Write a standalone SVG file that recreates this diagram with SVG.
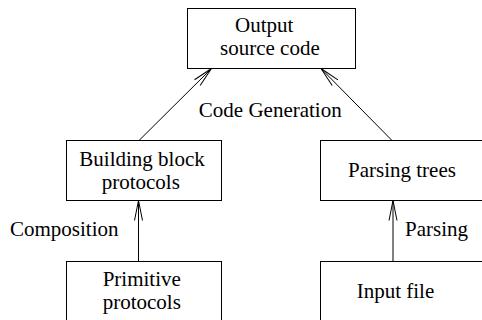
<svg xmlns="http://www.w3.org/2000/svg" width="482" height="320" viewBox="0 0 482 320">
<style>
.box{fill:#fff;stroke:#000;stroke-width:1}
.t{font-family:'Liberation Serif',serif !important;font-size:21px;fill:#000}
.c{stroke:#000;stroke-width:1;fill:none}
</style>
<defs>
<marker id="ah" markerUnits="userSpaceOnUse" markerWidth="24" markerHeight="12" viewBox="-22 -6 24 12" refX="0" refY="0" orient="auto">
<path d="M-20,-4 L0,0 L-20,4" fill="none" stroke="#000" stroke-width="1"/>
</marker>
</defs>
<rect width="482" height="320" fill="#fff"/>
<g id="connectors">
<line class="c" x1="139" y1="140.5" x2="211.5" y2="68.5" marker-end="url(#ah)"/>
<line class="c" x1="392" y1="140.5" x2="321" y2="68.5" marker-end="url(#ah)"/>
<line class="c" x1="138.5" y1="261.5" x2="138.5" y2="200.5" marker-end="url(#ah)"/>
<line class="c" x1="393" y1="261.5" x2="393" y2="200.5" marker-end="url(#ah)"/>
<text class="t" style="font-family:'Liberation Serif',serif" x="341.7" y="116.5" text-anchor="end">Code Generation</text>
<text class="t" style="font-family:'Liberation Serif',serif" x="10" y="236">Composition</text>
<text class="t" style="font-family:'Liberation Serif',serif" x="405" y="236">Parsing</text>
</g>
<g id="output">
<rect class="box" x="187.5" y="8.5" width="168" height="60"/>
<text class="t" style="font-family:'Liberation Serif',serif" x="235" y="31.5">Output</text>
<text class="t" style="font-family:'Liberation Serif',serif" x="220" y="54.5">source code</text>
</g>
<g id="building">
<rect class="box" x="66.5" y="140.5" width="155" height="60"/>
<text class="t" style="font-family:'Liberation Serif',serif" x="79.3" y="165.7">Building block</text>
<text class="t" style="font-family:'Liberation Serif',serif" x="101.7" y="189.3">protocols</text>
</g>
<g id="parsingtrees">
<rect class="box" x="320.5" y="140.5" width="170" height="60"/>
<text class="t" style="font-family:'Liberation Serif',serif" x="348" y="176.7">Parsing trees</text>
</g>
<g id="primitive">
<rect class="box" x="66.5" y="261.5" width="155" height="70"/>
<text class="t" style="font-family:'Liberation Serif',serif" x="102.7" y="286">Primitive</text>
<text class="t" style="font-family:'Liberation Serif',serif" x="102.7" y="309">protocols</text>
</g>
<g id="input">
<rect class="box" x="320.5" y="261.5" width="170" height="70"/>
<text class="t" style="font-family:'Liberation Serif',serif" x="356.7" y="298">Input file</text>
</g>
</svg>
